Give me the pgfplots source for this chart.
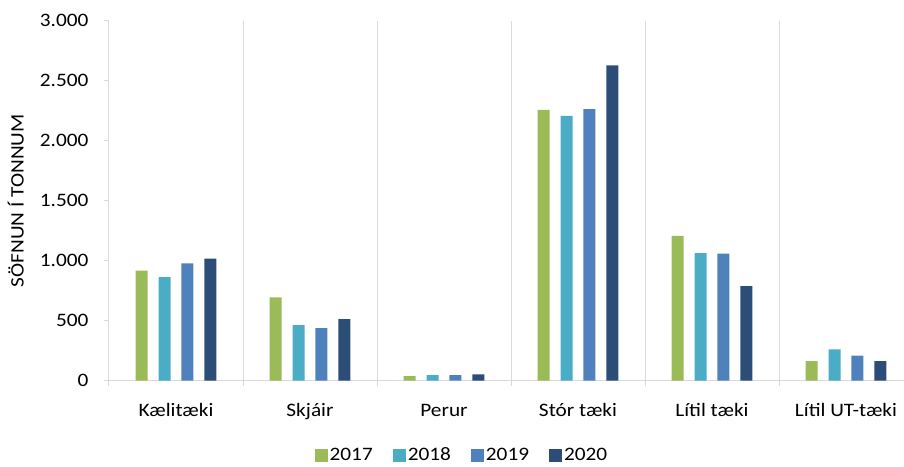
\documentclass[border=0pt]{standalone}
\usepackage{fontspec}
\setmainfont{Carlito}[FakeStretch=1.12]
\usepackage{pgfplots}
\pgfplotsset{compat=1.18}

\definecolor{c17}{HTML}{9BBB59}
\definecolor{c18}{HTML}{4BACC6}
\definecolor{c19}{HTML}{4F81BD}
\definecolor{c20}{HTML}{2C4D75}
\definecolor{gridgray}{HTML}{D9D9D9}
\newcommand{\chartfont}{\fontsize{19}{22}\selectfont}

\begin{document}
\begin{tikzpicture}
\begin{axis}[
    name=ax,
    scale only axis,
    width=804pt, height=360pt,
    xmin=-0.5, xmax=5.5,
    ymin=0, ymax=3000,
    axis lines*=left,
    axis line style={draw=gridgray, line width=1pt, -},
    xtick={-0.5,0.5,...,5.5},
    x tick label as interval,
    xticklabels={Kælitæki, Skjáir, Perur, Stór tæki, Lítil tæki, Lítil UT-tæki},
    xmajorgrids=true,
    grid style={draw=gridgray, line width=1pt},
    ytick={0,500,...,3000},
    scaled y ticks=false,
    /pgf/number format/1000 sep={.},
    /pgf/number format/assume math mode=true,
    tick align=outside,
    major tick length=5pt,
    tick style={draw=gridgray, line width=1pt},
    tick label style={font=\chartfont, text=black},
    x tick label style={anchor=base, yshift=-31pt},
    y tick label style={xshift=-12pt},
    label style={font=\chartfont},
    ylabel={SÖFNUN Í TONNUM},
    ylabel style={at={(axis description cs:-0.116,0.5)}, anchor=center},
    ybar,
    bar width=12pt,
    legend image code/.code={\fill[#1] (0pt,-6.5pt) rectangle (13pt,6.5pt);},
    legend style={at={(axis description cs:0.439,-0.207)}, anchor=center,
        draw=none, legend columns=-1, font=\chartfont,
        /tikz/every even column/.append style={column sep=18pt}},
]
\addplot[fill=c17, draw=none, bar shift=-34.3pt]
    coordinates {(0,917) (1,695) (2,39) (3,2256) (4,1206) (5,164)};
\addlegendentry{2017}
\addplot[fill=c18, draw=none, bar shift=-11.4pt]
    coordinates {(0,864) (1,464) (2,47) (3,2206) (4,1064) (5,262)};
\addlegendentry{2018}
\addplot[fill=c19, draw=none, bar shift=11.4pt]
    coordinates {(0,978) (1,439) (2,47) (3,2264) (4,1058) (5,208)};
\addlegendentry{2019}
\addplot[fill=c20, draw=none, bar shift=34.3pt]
    coordinates {(0,1017) (1,514) (2,53) (3,2628) (4,789) (5,164)};
\addlegendentry{2020}
\end{axis}
\pgfresetboundingbox
\useasboundingbox ([xshift=-109pt,yshift=-85.3pt]ax.south west)
    rectangle ([xshift=795pt,yshift=380.7pt]ax.south west);
\end{tikzpicture}
\end{document}
